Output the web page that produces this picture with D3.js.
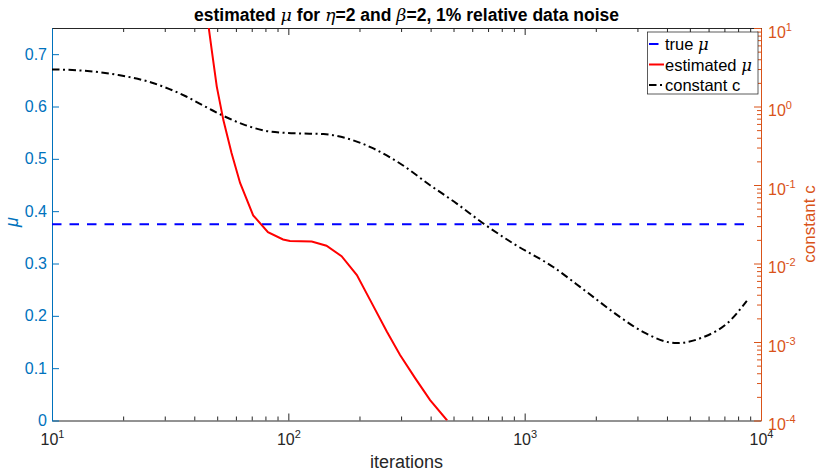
<!DOCTYPE html>
<html><head><meta charset="utf-8">
<script src="https://cdn.jsdelivr.net/npm/d3@7"></script>
<style>body{margin:0;background:#fff} svg{display:block} text{font-family:"Liberation Sans",Arial,sans-serif}</style>
</head><body><svg id="c" width="820" height="472"></svg>
<script>
// ---- data ----
const trueMuValue = 0.375;
const trueIter = [10, 8710];
const estIter = [44, 46, 47.4, 49.8, 53.1, 57.5, 62.5, 71, 82, 95, 101.6, 125.6, 145, 168, 195, 222, 261, 297, 344, 398, 470];
const estMu = [0.82, 0.752, 0.708, 0.638, 0.574, 0.511, 0.454, 0.392, 0.360, 0.346, 0.343, 0.342, 0.334, 0.314, 0.278, 0.230, 0.170, 0.125, 0.081, 0.039, 0.0];
const constIter = [10, 13.8, 19.1, 26.5, 36.6, 46, 54.1, 65.7, 80, 97, 112, 141, 177, 229, 297, 398, 516, 669, 896, 1321, 1832, 2535, 3180, 4400, 5705, 7166, 8710];
const constC = [2.97, 2.85, 2.52, 2.01, 1.36, 0.946, 0.74, 0.58, 0.49, 0.462, 0.454, 0.445, 0.392, 0.292, 0.188, 0.0994, 0.058, 0.0323, 0.01794, 0.00902, 0.00433, 0.002075, 0.001336, 0.000968, 0.001154, 0.00171, 0.00333];
const xTicks = [10, 100, 1000, 10000];
const xTickExp = ["1", "2", "3", "4"];
const yLeftTicks = [0, 0.1, 0.2, 0.3, 0.4, 0.5, 0.6, 0.7];
const yLeftLabels = ["0", "0.1", "0.2", "0.3", "0.4", "0.5", "0.6", "0.7"];
const yRightTicks = [1e-4, 1e-3, 1e-2, 1e-1, 1, 10];
const yRightExp = ["-4", "-3", "-2", "-1", "0", "1"];
const legendLabels = ["true ", "estimated ", "constant c"];

// ---- layout ----
const L = 52, R = 761, T = 28, B = 420.5;
const BLUE_AX = "#0072BD", ORANGE = "#D95319", DARK = "#262626";
const svg = d3.select("#c");
const x = d3.scaleLog().domain([10, 1e4]).range([L, R]);
const yL = d3.scaleLinear().domain([0, 0.75]).range([B, T]);
const yR = d3.scaleLog().domain([1e-4, 10]).range([B, T]);

function minorLog(lo, hi) {
  const out = [];
  for (let e = Math.log10(lo); e < Math.log10(hi); e++)
    for (let m = 2; m <= 9; m++) out.push(m * Math.pow(10, e));
  return out;
}
const xMinor = minorLog(10, 1e4);
const yMinor = minorLog(1e-4, 10);

svg.append("defs").append("clipPath").attr("id", "clip")
  .append("rect").attr("x", L).attr("y", T).attr("width", R - L).attr("height", B - T);

function styleAxis(g, color) {
  g.selectAll("path.domain").attr("stroke", color).attr("stroke-width", 1);
  g.selectAll(".tick line").attr("stroke", color).attr("stroke-width", 1);
  g.selectAll(".tick text").attr("fill", color).attr("font-size", 16);
}

// x axis bottom
const gxB = svg.append("g").attr("transform", `translate(0,${B})`)
  .call(d3.axisBottom(x).tickValues(xTicks).tickSizeInner(-7).tickSizeOuter(0).tickPadding(10).tickFormat(""));
styleAxis(gxB, DARK);
gxB.selectAll(".tick text").each(function (d, i) {
  const t = d3.select(this).attr("text-anchor", "middle").attr("dy", "0.9em");
  t.append("tspan").text("10");
  t.append("tspan").attr("font-size", 11).attr("dy", -7).text(xTickExp[i]);
});
svg.append("g").attr("transform", `translate(0,${B})`)
  .call(d3.axisBottom(x).tickValues(xMinor).tickSizeInner(-4).tickSizeOuter(0).tickFormat(""))
  .call(g => { g.select("path.domain").remove(); styleAxis(g, DARK); });

// x axis top
const gxT = svg.append("g").attr("transform", `translate(0,${T})`)
  .call(d3.axisTop(x).tickValues(xTicks).tickSizeInner(-7).tickSizeOuter(0).tickFormat(""));
styleAxis(gxT, DARK);
svg.append("g").attr("transform", `translate(0,${T})`)
  .call(d3.axisTop(x).tickValues(xMinor).tickSizeInner(-4).tickSizeOuter(0).tickFormat(""))
  .call(g => { g.select("path.domain").remove(); styleAxis(g, DARK); });

// left axis
const gyL = svg.append("g").attr("transform", `translate(${L},0)`)
  .call(d3.axisLeft(yL).tickValues(yLeftTicks).tickSizeInner(-7).tickSizeOuter(0).tickPadding(5)
    .tickFormat((d, i) => yLeftLabels[i]));
styleAxis(gyL, BLUE_AX);

// right axis
const gyR = svg.append("g").attr("transform", `translate(${R},0)`)
  .call(d3.axisRight(yR).tickValues(yRightTicks).tickSizeInner(-7).tickSizeOuter(0).tickPadding(7).tickFormat(""));
styleAxis(gyR, ORANGE);
gyR.selectAll(".tick text").each(function (d, i) {
  const t = d3.select(this).attr("dy", "0.58em");
  t.append("tspan").text("10");
  t.append("tspan").attr("font-size", 11).attr("dy", -7).text(yRightExp[i]);
});
svg.append("g").attr("transform", `translate(${R},0)`)
  .call(d3.axisRight(yR).tickValues(yMinor).tickSizeInner(-4).tickSizeOuter(0).tickFormat(""))
  .call(g => { g.select("path.domain").remove(); styleAxis(g, ORANGE); });

// lines
const plot = svg.append("g").attr("clip-path", "url(#clip)");
plot.append("path")
  .datum(trueIter.map(it => [it, trueMuValue]))
  .attr("d", d3.line().x(d => x(d[0])).y(d => yL(d[1])))
  .attr("fill", "none").attr("stroke", "#0000FF").attr("stroke-width", 2)
  .attr("stroke-dasharray", "9.5,8");
plot.append("path")
  .datum(constIter.map((it, i) => [it, constC[i]]))
  .attr("d", d3.line().x(d => x(d[0])).y(d => yR(d[1])).curve(d3.curveMonotoneX))
  .attr("fill", "none").attr("stroke", "#000").attr("stroke-width", 2)
  .attr("stroke-dasharray", "7.5,3.5,2,3.5");
plot.append("path")
  .datum(estIter.map((it, i) => [it, estMu[i]]))
  .attr("d", d3.line().x(d => x(d[0])).y(d => yL(d[1])))
  .attr("fill", "none").attr("stroke", "#FF0000").attr("stroke-width", 2);

// title
const title = svg.append("text").attr("x", (L + R) / 2).attr("y", 20.5)
  .attr("text-anchor", "middle").attr("font-weight", "bold").attr("font-size", 17.5).attr("fill", "#000");
const mathFont = "'DejaVu Serif','Liberation Serif',serif";
title.append("tspan").text("estimated ");
title.append("tspan").attr("font-family", mathFont).attr("font-style", "italic").attr("font-weight", "normal").text("μ");
title.append("tspan").text(" for ");
title.append("tspan").attr("font-family", mathFont).attr("font-style", "italic").attr("font-weight", "normal").text("η");
title.append("tspan").text("=2 and ");
title.append("tspan").attr("font-family", mathFont).attr("font-style", "italic").attr("font-weight", "normal").text("β");
title.append("tspan").text("=2, 1% relative data noise");

// axis labels
svg.append("text").attr("x", (L + R) / 2).attr("y", 468).attr("text-anchor", "middle")
  .attr("font-size", 18).attr("fill", DARK).text("iterations");
svg.append("text").attr("transform", "translate(18,222) rotate(-90)").attr("text-anchor", "middle")
  .attr("font-size", 18).attr("font-family", mathFont).attr("font-style", "italic").attr("fill", BLUE_AX).text("μ");
svg.append("text").attr("transform", "translate(815,224) rotate(-90)").attr("text-anchor", "middle")
  .attr("font-size", 17).attr("fill", ORANGE).text("constant c");

// legend
const lg = svg.append("g");
lg.append("rect").attr("x", 647.5).attr("y", 32).attr("width", 110.5).attr("height", 62)
  .attr("fill", "#fff").attr("stroke", DARK).attr("stroke-width", 0.75);
const legendStyles = [
  { color: "#0000FF", dash: "9.5,8" },
  { color: "#FF0000", dash: null },
  { color: "#000", dash: "7.5,3.5,2,3.5" }
];
const rowY = [44, 64.5, 85];
legendLabels.forEach((lab, i) => {
  lg.append("line").attr("x1", 649).attr("x2", 664).attr("y1", rowY[i]).attr("y2", rowY[i])
    .attr("stroke", legendStyles[i].color).attr("stroke-width", 2)
    .attr("stroke-dasharray", legendStyles[i].dash);
  const t = lg.append("text").attr("x", 665).attr("y", rowY[i] + 6).attr("font-size", 16.5).attr("fill", "#000").text(lab);
  if (i < 2) t.append("tspan").attr("font-family", mathFont).attr("font-style", "italic").text("μ");
});
</script></body></html>
